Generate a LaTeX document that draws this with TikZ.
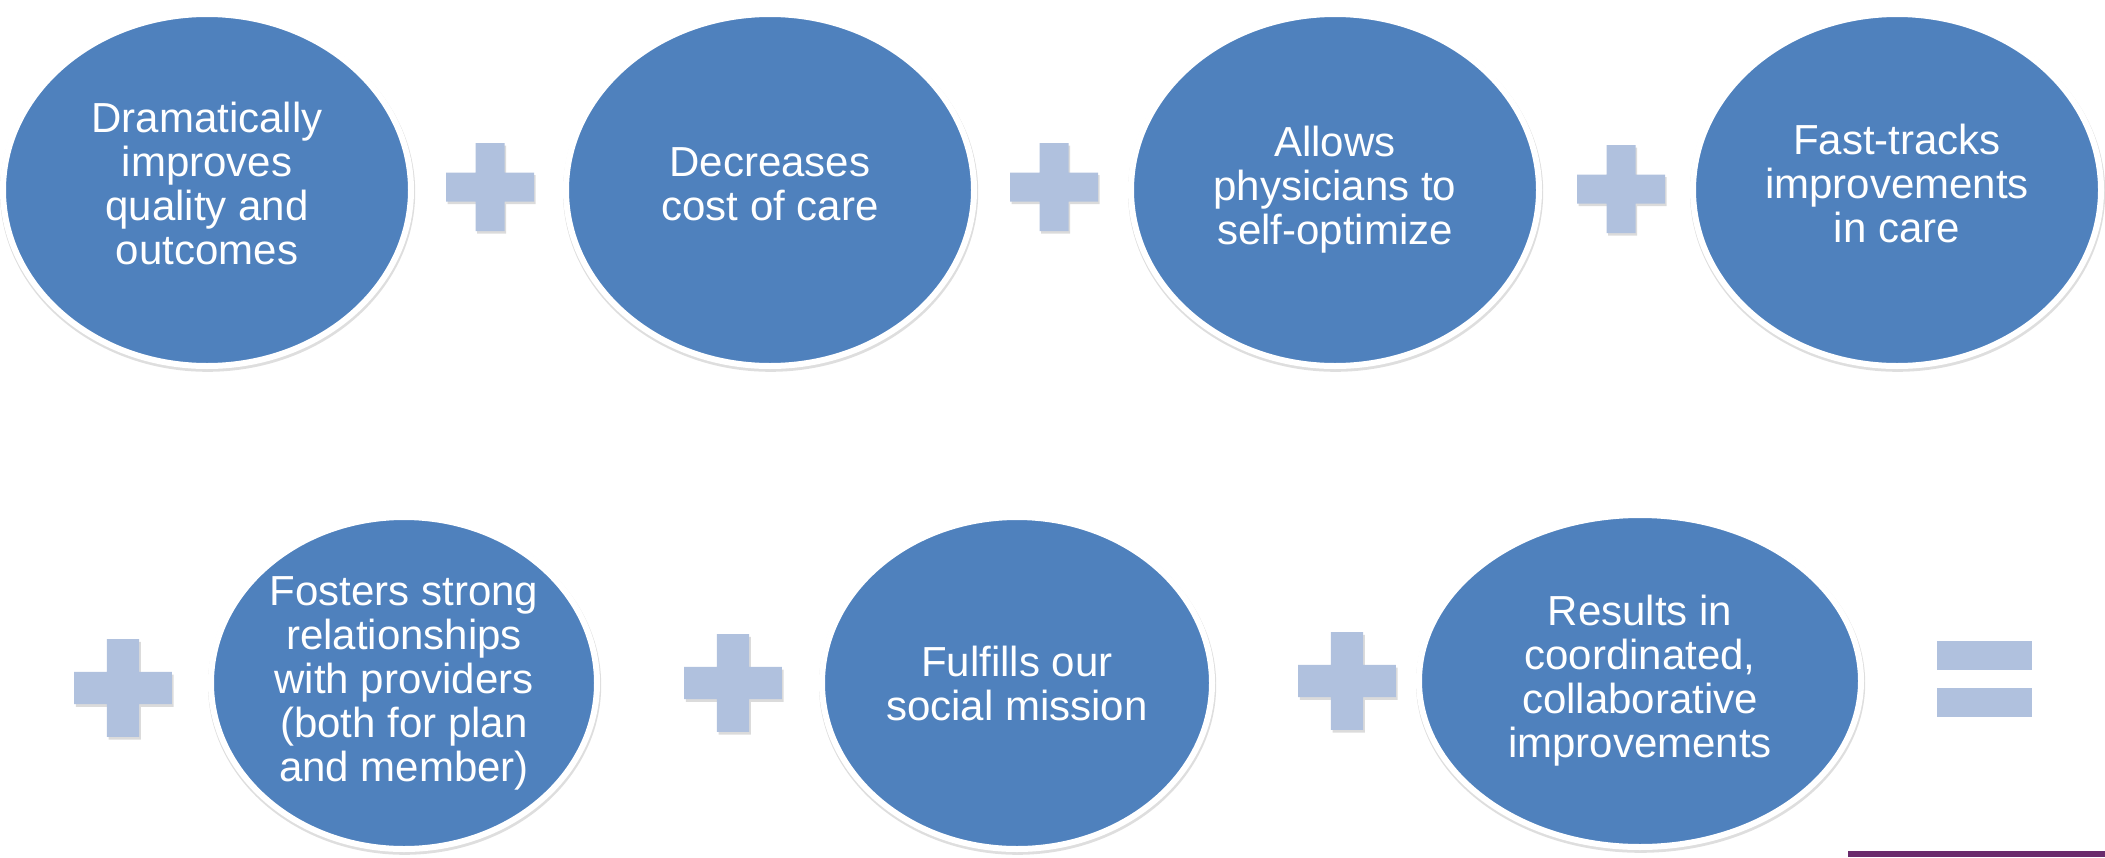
\documentclass[tikz,border=0pt]{standalone}
\usepackage{fontspec}
\setmainfont{Liberation Sans}
\usetikzlibrary{shapes.geometric}

\definecolor{bubbleblue}{HTML}{4F81BD}
\definecolor{plustint}{HTML}{B0C1DE}
\definecolor{footpurple}{HTML}{6A2B6C}

\begin{document}
\begin{tikzpicture}[x=0.5pt,y=-0.5pt,
  bubble/.style={ellipse, fill=bubbleblue, draw=white, line width=3pt,
    inner sep=0pt, text=white, align=center,
    font=\fontsize{21}{22}\selectfont,
    preaction={draw=black, draw opacity=0.13, line width=3.6pt,
      transform canvas={xshift=0.3pt, yshift=-1.1pt}}},
  toprow/.style={minimum width=204pt, minimum height=176pt},
  lowrow/.style={minimum height=166pt},
  eqbar/.style={fill=plustint, inner sep=0pt, minimum width=47.5pt, minimum height=14.5pt},
  pics/plussign/.style={code={
    \fill[black, opacity=0.14, shift={(1.5,2.5)}]
      (-14.5,-44) -- (14.5,-44) -- (14.5,-14.5) -- (44,-14.5) -- (44,14.5)
      -- (14.5,14.5) -- (14.5,44) -- (-14.5,44) -- (-14.5,14.5) -- (-44,14.5)
      -- (-44,-14.5) -- (-14.5,-14.5) -- cycle;
    \fill[plustint]
      (-14.5,-44) -- (14.5,-44) -- (14.5,-14.5) -- (44,-14.5) -- (44,14.5)
      -- (14.5,14.5) -- (14.5,44) -- (-14.5,44) -- (-14.5,14.5) -- (-44,14.5)
      -- (-44,-14.5) -- (-14.5,-14.5) -- cycle;
  }}
]
\useasboundingbox (0,0) rectangle (2105,857);
\fill[white] (0,0) rectangle (2105,857);

% top row
\node[bubble, toprow] (quality) at (207,190) {\raisebox{3pt}{\begin{tabular}{@{}c@{}}Dramatically\\improves\\quality and\\outcomes\end{tabular}}};
\node[bubble, toprow] (cost) at (770,190) {\raisebox{2pt}{\begin{tabular}{@{}c@{}}Decreases\\cost of care\end{tabular}}};
\node[bubble, toprow] (physicians) at (1335,190) {Allows\\physicians to\\self-optimize};
\node[bubble, toprow] (fasttrack) at (1897,190) {\raisebox{2.5pt}{\begin{tabular}{@{}c@{}}Fast-tracks\\improvements\\in care\end{tabular}}};

\pic (plusA) at (490,187) {plussign};
\pic (plusB) at (1054,187) {plussign};
\pic (plusC) at (1621,189) {plussign};

% bottom row
\pic[scale=1.11] (plusD) at (123,688) {plussign};
\node[bubble, lowrow, minimum width=193pt] (providers) at (404,683) {Fosters strong\\relationships\\with providers\\(both for plan\\and member)};
\pic[scale=1.11] (plusE) at (733,683) {plussign};
\node[bubble, lowrow, minimum width=195pt] (mission) at (1017,683) {Fulfills our\\social mission};
\pic[scale=1.11] (plusF) at (1347,681) {plussign};
\node[bubble, lowrow, minimum width=221pt] (results) at (1640,681) {Results in\\coordinated,\\collaborative\\improvements};

% equals sign
\node[eqbar] (eqtop) at (1984.5,655) {};
\node[eqbar] (eqbottom) at (1984.5,702) {};

% footer rule
\fill[footpurple] (1848,851) rectangle (2105,857);
\end{tikzpicture}
\end{document}
